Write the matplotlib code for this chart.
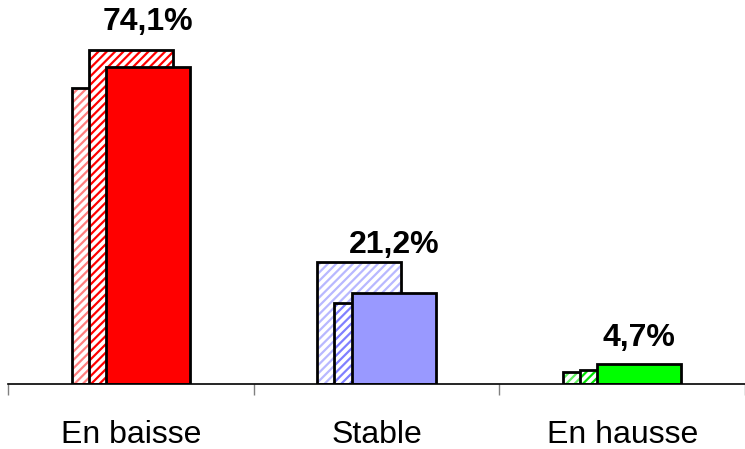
import matplotlib
matplotlib.use("Agg")
import matplotlib.pyplot as plt
import numpy as np

categories = ["En baisse", "Stable", "En hausse"]
back_values = [69.2, 28.5, 2.8]
middle_values = [78.0, 18.9, 3.3]
front_values = [74.1, 21.2, 4.7]
labels = ["74,1%", "21,2%", "4,7%"]
label_y = [84.5, 32.5, 10.8]

front_colors = ["#FF0000", "#9999FF", "#00FF00"]
middle_hatch = ["#FF0000", "#8080FF", "#00E000"]
back_hatch = ["#FF8080", "#B8B8FF", "#60F060"]

plt.rcParams['font.family'] = ['Liberation Sans', 'DejaVu Sans']
plt.rcParams['hatch.linewidth'] = 1.6

fig = plt.figure(figsize=(7.45, 4.49), dpi=100)
ax = fig.add_axes([8/745, 65/449, 737/745, 384/449])

x = np.arange(len(categories))
w = 0.342
off = 0.070
lw = 2.0

for i in range(len(categories)):
    # back bar
    ax.bar(x[i] - off, back_values[i], w, color="white", edgecolor=back_hatch[i],
           hatch="////", linewidth=0, zorder=1)
    ax.bar(x[i] - off, back_values[i], w, fill=False, edgecolor="black",
           linewidth=lw, zorder=1.1)
    # middle bar
    ax.bar(x[i], middle_values[i], w, color="white", edgecolor=middle_hatch[i],
           hatch="////", linewidth=0, zorder=2)
    ax.bar(x[i], middle_values[i], w, fill=False, edgecolor="black",
           linewidth=lw, zorder=2.1)
    # front bar
    ax.bar(x[i] + off, front_values[i], w, color=front_colors[i], edgecolor="black",
           linewidth=lw, zorder=3)
    ax.text(x[i] + off, label_y[i], labels[i], ha="center", va="center",
            fontsize=23, fontweight="bold", color="black")

ax.set_xlim(-0.5, 2.5)
ax.set_ylim(0, 89.7)
for s in ["top", "right", "left"]:
    ax.spines[s].set_visible(False)
ax.spines["bottom"].set_linewidth(1.2)
ax.spines["bottom"].set_zorder(5)
ax.set_yticks([])
ax.set_xticks(x)
ax.set_xticklabels(categories, fontsize=23)
ax.tick_params(axis="x", which="major", length=0, pad=26)
ax.set_xticks([-0.5, 0.5, 1.5, 2.5], minor=True)
ax.tick_params(axis="x", which="minor", length=8, width=1, color="#808080")

fig.savefig("out.png", dpi=100)
